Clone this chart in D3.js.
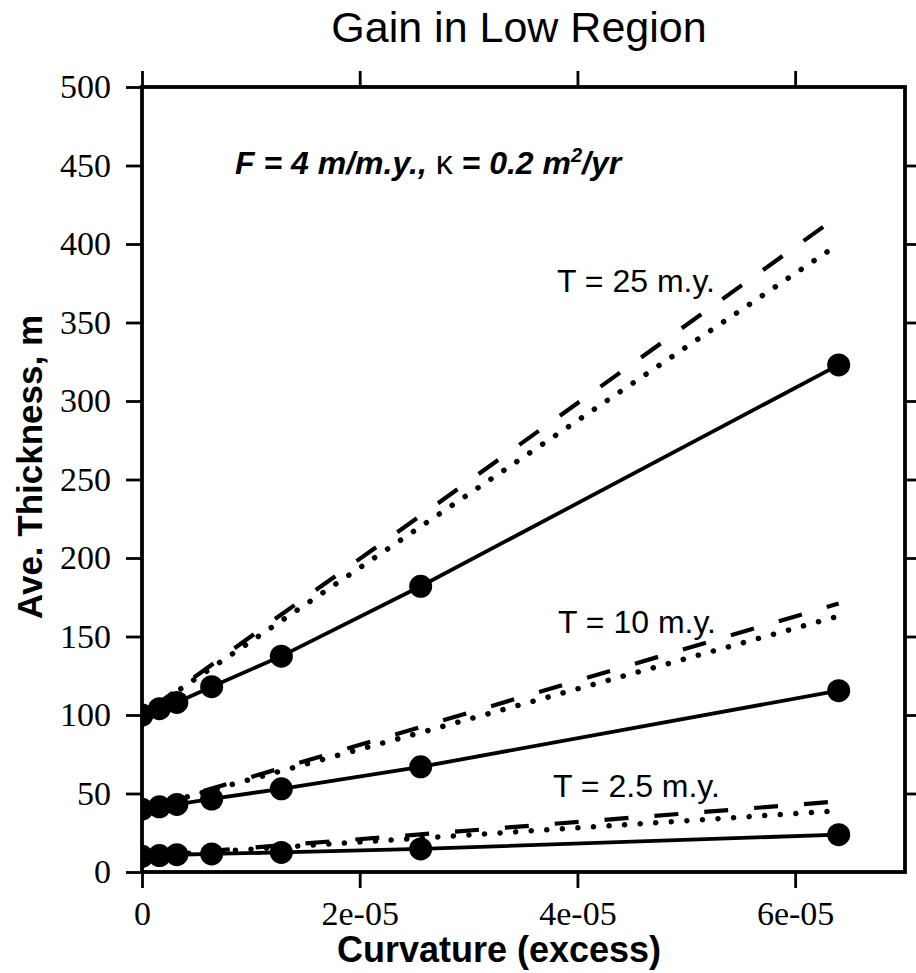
<!DOCTYPE html>
<html>
<head>
<meta charset="utf-8">
<script src="https://cdn.jsdelivr.net/npm/d3@7/dist/d3.min.js"></script>
<style>
  html, body { margin: 0; padding: 0; background: #fff; }
  svg { display: block; }
</style>
</head>
<body>
<div id="chart"></div>
<script>
// ---- data ----
const curvature = [0, 1.6e-6, 3.2e-6, 6.4e-6, 1.28e-5, 2.56e-5, 6.4e-5];
const seriesNames = ["T = 25 m.y.", "T = 10 m.y.", "T = 2.5 m.y."];
const modelT25 = [100, 104, 108, 118, 137.5, 182, 323];
const modelT10 = [40, 41.5, 43, 46.5, 53, 67, 115.5];
const modelT2_5 = [10, 10.5, 11, 11.5, 12.5, 14.7, 23.8];
const dashedT25 = [100, 108, 116, 132, 164, 227, 418];
const dashedT10 = [40, 43.3, 46.6, 53.1, 66.2, 92.4, 171];
const dashedT2_5 = [10, 10.9, 11.8, 13.5, 17, 24, 45];
const dottedT25 = [100, 107.5, 115, 130, 160, 220, 400];
const dottedT10 = [40, 43, 46, 52.2, 64.4, 88.8, 163];
const dottedT2_5 = [10, 10.7, 11.4, 12.9, 15.8, 21.6, 39];
const xTicks = [0, 2e-5, 4e-5, 6e-5];
const xTickLabels = ["0", "2e-05", "4e-05", "6e-05"];
const yTicks = [0, 50, 100, 150, 200, 250, 300, 350, 400, 450, 500];
const yRightTicks = [50, 100, 150, 200, 250, 300, 350, 400, 450];

(function () {
const W = 916, H = 973;
const mLeft = 142, mRight = 905, mTop = 87, mBottom = 872;

const svg = d3.select("#chart").append("svg").attr("width", W).attr("height", H);

const x = d3.scaleLinear().domain([0, 7e-5]).range([mLeft, 904]);
const y = d3.scaleLinear().domain([0, 500]).range([mBottom, mTop]);

svg.append("defs").append("clipPath").attr("id", "plotclip")
  .append("rect").attr("x", mLeft).attr("y", mTop).attr("width", mRight - mLeft).attr("height", mBottom - mTop);

const groups = [
  { model: modelT25, dashed: dashedT25, dotted: dottedT25 },
  { model: modelT10, dashed: dashedT10, dotted: dottedT10 },
  { model: modelT2_5, dashed: dashedT2_5, dotted: dottedT2_5 }
];

const line = d3.line().x(d => x(d[0])).y(d => y(d[1]));
const plot = svg.append("g").attr("clip-path", "url(#plotclip)");

groups.forEach(g => {
  const dashedPts = curvature.map((c, i) => [c, g.dashed[i]]);
  const dottedPts = curvature.map((c, i) => [c, g.dotted[i]]);
  const modelPts = curvature.map((c, i) => [c, g.model[i]]);
  plot.append("path").attr("d", line(dashedPts))
    .attr("fill", "none").attr("stroke", "#000").attr("stroke-width", 4.2)
    .attr("stroke-dasharray", "24,26").attr("stroke-dashoffset", -14);
  plot.append("path").attr("d", line(dottedPts))
    .attr("fill", "none").attr("stroke", "#000").attr("stroke-width", 5.5)
    .attr("stroke-linecap", "round")
    .attr("stroke-dasharray", "0.1,15.5");
  plot.append("path").attr("d", line(modelPts))
    .attr("fill", "none").attr("stroke", "#000").attr("stroke-width", 3.8);
  plot.selectAll(null).data(modelPts).enter().append("circle")
    .attr("cx", d => x(d[0])).attr("cy", d => y(d[1])).attr("r", 11.5).attr("fill", "#000");
});

// frame
svg.append("rect").attr("x", mLeft).attr("y", mTop).attr("width", mRight - mLeft).attr("height", mBottom - mTop)
  .attr("fill", "none").attr("stroke", "#000").attr("stroke-width", 3.8);

// axes
const tickFont = "'Liberation Serif', 'Times New Roman', serif";
const axL = svg.append("g").attr("transform", `translate(${mLeft},0)`)
  .call(d3.axisLeft(y).tickValues(yTicks).tickSize(16).tickPadding(15).tickSizeOuter(0).tickFormat(d3.format("d")));
const axB = svg.append("g").attr("transform", `translate(0,${mBottom})`)
  .call(d3.axisBottom(x).tickValues(xTicks).tickSize(16).tickPadding(13).tickSizeOuter(0)
    .tickFormat((d, i) => xTickLabels[i]));
const axT = svg.append("g").attr("transform", `translate(0,${mTop})`)
  .call(d3.axisTop(x).tickValues(xTicks).tickSize(16).tickSizeOuter(0).tickFormat(""));
const axR = svg.append("g").attr("transform", `translate(${mRight},0)`)
  .call(d3.axisRight(y).tickValues(yRightTicks).tickSize(16).tickSizeOuter(0).tickFormat(""));
[axL, axB, axT, axR].forEach(a => {
  a.select(".domain").remove();
  a.selectAll(".tick line").attr("stroke", "#000").attr("stroke-width", 2.8);
  a.selectAll(".tick text").attr("fill", "#000").style("font-family", tickFont).style("font-size", "34px");
});

// titles
const sans = "'Liberation Sans', Arial, Helvetica, sans-serif";
svg.append("text").attr("x", 519).attr("y", 42).attr("text-anchor", "middle")
  .style("font-family", sans).style("font-size", "43px").text("Gain in Low Region");

svg.append("text").attr("transform", "translate(42,467) rotate(-90)").attr("text-anchor", "middle")
  .style("font-family", sans).style("font-size", "35px").style("font-weight", "bold")
  .text("Ave. Thickness, m");

svg.append("text").attr("x", 499).attr("y", 962).attr("text-anchor", "middle")
  .style("font-family", sans).style("font-size", "36px").style("font-weight", "bold")
  .text("Curvature (excess)");

// annotation
const ann = svg.append("text").attr("x", 235).attr("y", 174)
  .style("font-family", sans).style("font-size", "32px").style("font-weight", "bold").style("font-style", "italic");
ann.append("tspan").text("F = 4 m/m.y., ");
ann.append("tspan").style("font-style", "normal").style("font-weight", "normal").style("font-size", "34px").text("κ");
ann.append("tspan").text(" = 0.2 m");
ann.append("tspan").attr("dy", -12).style("font-size", "20px").text("2");
ann.append("tspan").attr("dy", 12).text("/yr");

// series labels
svg.selectAll(".tlabel").data(seriesNames).enter().append("text")
  .attr("class", "tlabel")
  .attr("x", (d, i) => [557, 558, 553][i])
  .attr("y", (d, i) => [292, 633, 797][i])
  .style("font-family", sans).style("font-size", "32px")
  .text(d => d);
})();
</script>
</body>
</html>
